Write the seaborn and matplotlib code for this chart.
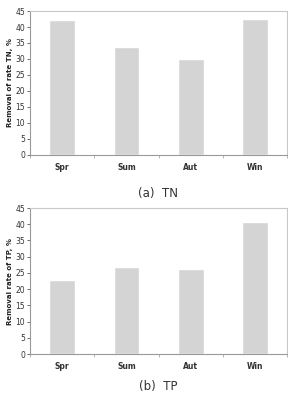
import numpy as np
import pandas as pd
import seaborn as sns
import matplotlib.pyplot as plt

seasons = ['Spr', 'Sum', 'Aut', 'Win']
tn_removal = [42.3, 33.7, 30.0, 42.5]
tp_removal = [22.7, 26.8, 26.3, 40.6]

sns.set_style('white')
plt.rcParams['font.family'] = ['DejaVu Sans']

fig = plt.figure(figsize=(2.88, 3.94), dpi=100)
ax1 = fig.add_axes([0.104, 0.607, 0.893, 0.365])
ax2 = fig.add_axes([0.104, 0.1015, 0.893, 0.3705])

panels = [
    (ax1, tn_removal, 'Removal of rate TN, %', '(a)  TN'),
    (ax2, tp_removal, 'Removal rate of TP, %', '(b)  TP'),
]

for ax, vals, ylab, cap in panels:
    df = pd.DataFrame({'season': seasons, 'rate': vals})
    sns.barplot(data=df, x='season', y='rate', color='#d4d4d4', width=0.4,
                saturation=1, ax=ax)
    ax.set_ylim(0, 45)
    ax.set_xlim(-0.5, 3.5)
    ax.set_yticks(np.arange(0, 46, 5))
    ax.tick_params(axis='y', labelsize=5.5, colors='#333333', length=2,
                   width=0.5, direction='out', left=True, pad=1.5)
    ax.tick_params(axis='x', which='major', length=0, labelsize=5.5, pad=6)
    ax.set_xticks(np.arange(-0.5, 4, 1), minor=True)
    ax.tick_params(axis='x', which='minor', length=2, width=0.5,
                   color='#999999', bottom=True, direction='out')
    for lbl in ax.get_xticklabels():
        lbl.set_fontweight('bold')
        lbl.set_color('#333333')
    for sp in ax.spines.values():
        sp.set_color('#c8c8c8')
        sp.set_linewidth(0.8)
    ax.spines['bottom'].set_color('#999999')
    ax.spines['left'].set_color('#999999')
    ax.set_xlabel('')
    ax.set_ylabel(ylab, fontsize=5, fontweight='bold', labelpad=2,
                  color='#222222')

fig.text(0.55, 0.51, '(a)  TN', ha='center', va='center', fontsize=8.5,
         color='#333333')
fig.text(0.55, 0.018, '(b)  TP', ha='center', va='center', fontsize=8.5,
         color='#333333')

fig.savefig('out.png', dpi=100)
